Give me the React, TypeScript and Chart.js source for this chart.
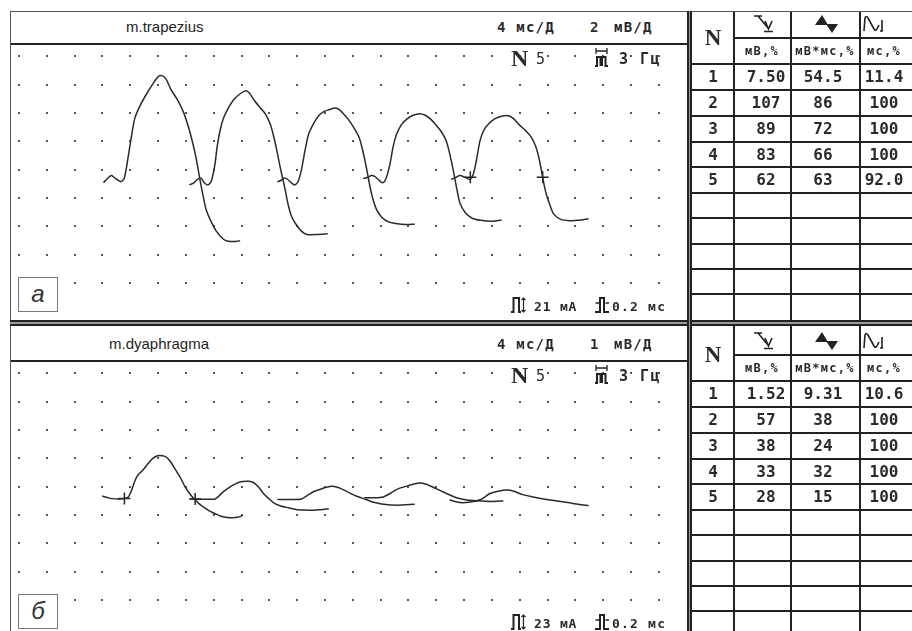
import React, { useEffect, useRef } from "react";
import { Chart, registerables } from "chart.js";
Chart.register(...registerables);

// ---------- data ----------
const trapSweep1Ms = [12.15, 12.8, 13.3, 13.9, 14.65, 15.15, 15.65, 16.15, 16.65, 17.4, 18.4, 19.4, 20.15, 20.65, 21.15, 21.9, 22.9, 23.65, 24.4, 25.0, 25.5, 25.9, 26.15, 26.5, 26.9, 27.65, 28.4, 29.4, 30.15, 31.4, 31.8];
const trapSweep1MV = [-0.92, -0.58, -0.41, -0.63, -0.85, -0.58, 0.74, 2.29, 3.62, 4.5, 5.39, 6.16, 6.61, 6.61, 6.38, 5.61, 4.84, 4.06, 2.96, 1.85, 0.74, -0.36, -1.03, -1.91, -2.8, -3.68, -4.35, -4.9, -5.05, -5.05, -5.0];
const trapSweep2Ms = [24.5, 25.15, 25.65, 26.15, 26.65, 27.15, 27.65, 28.15, 28.5, 28.9, 29.4, 30.15, 30.9, 31.9, 32.65, 33.15, 33.9, 34.65, 35.4, 36.15, 36.65, 37.15, 37.5, 37.9, 38.3, 38.65, 39.15, 39.9, 40.65, 41.4, 42.9, 44.4];
const trapSweep2MV = [-1.07, -0.92, -0.69, -0.58, -0.92, -1.07, -0.81, 0.3, 1.63, 2.73, 3.62, 4.39, 4.95, 5.39, 5.57, 5.39, 4.84, 4.39, 3.95, 3.18, 2.29, 1.19, 0.3, -0.58, -1.47, -2.35, -3.24, -3.9, -4.35, -4.57, -4.57, -4.52];
const trapSweep3Ms = [37.15, 37.65, 38.15, 38.65, 39.15, 39.65, 40.15, 40.65, 41.15, 41.65, 42.4, 43.15, 43.9, 44.65, 45.4, 45.9, 46.65, 47.4, 48.15, 48.9, 49.4, 49.8, 50.15, 50.4, 50.8, 51.4, 52.15, 53.15, 54.4, 55.65, 56.9];
const trapSweep3MV = [-0.85, -0.76, -0.58, -0.69, -0.92, -1.07, -0.81, 0.08, 1.41, 2.51, 3.29, 3.84, 4.11, 4.24, 4.35, 4.28, 3.95, 3.51, 2.96, 2.29, 1.41, 0.52, -0.36, -1.03, -1.91, -2.8, -3.35, -3.68, -3.81, -3.86, -3.84];
const trapSweep4Ms = [49.5, 50.15, 50.65, 51.15, 51.65, 52.3, 52.8, 53.3, 53.8, 54.3, 55.0, 55.8, 56.65, 57.65, 58.4, 59.15, 59.9, 60.65, 61.4, 61.9, 62.3, 62.65, 63.0, 63.4, 64.15, 65.15, 66.4, 67.9, 69.4];
const trapSweep4MV = [-0.63, -0.54, -0.41, -0.47, -0.69, -0.92, -0.58, 0.3, 1.63, 2.51, 3.18, 3.58, 3.84, 3.95, 3.84, 3.58, 3.18, 2.73, 2.07, 1.19, 0.3, -0.58, -1.47, -2.35, -3.02, -3.42, -3.57, -3.64, -3.55];
const trapSweep5Ms = [62.15, 62.8, 63.4, 64.15, 64.8, 65.3, 65.8, 66.3, 66.9, 67.65, 68.4, 69.4, 70.4, 71.15, 71.9, 72.9, 73.65, 74.3, 74.8, 75.15, 75.4, 75.8, 76.4, 76.9, 77.9, 79.15, 80.4, 81.9];
const trapSweep5MV = [-0.69, -0.54, -0.41, -0.54, -0.69, -0.36, 0.74, 2.07, 2.85, 3.29, 3.58, 3.77, 3.8, 3.58, 3.18, 2.73, 2.29, 1.63, 0.74, -0.14, -0.81, -1.69, -2.58, -3.13, -3.5, -3.59, -3.57, -3.46];
const trapMarkerMs = [64.9, 75.3];
const trapMarkerMV = [-0.53, -0.53];

const diaSweep1Ms = [11.97, 12.68, 13.38, 14.32, 15.16, 15.72, 16.19, 16.66, 17.13, 17.83, 18.54, 19.24, 19.94, 20.64, 21.25, 21.82, 22.52, 23.22, 23.93, 24.53, 25.1, 25.8, 26.5, 27.44, 28.38, 29.31, 30.25, 31.42, 32.13];
const diaSweep1MV = [-0.33, -0.38, -0.42, -0.43, -0.42, -0.36, -0.13, 0.2, 0.42, 0.59, 0.81, 1.0, 1.09, 1.09, 1.03, 0.87, 0.59, 0.31, -0.02, -0.24, -0.41, -0.58, -0.71, -0.86, -0.97, -1.06, -1.09, -1.08, -1.02];
const diaSweep2Ms = [24.63, 26.5, 28.14, 28.61, 29.31, 30.25, 31.19, 32.13, 33.06, 33.77, 34.47, 35.17, 35.88, 36.58, 37.52, 38.69, 39.86, 41.03, 42.44, 43.38, 44.55];
const diaSweep2MV = [-0.44, -0.44, -0.44, -0.36, -0.19, -0.02, 0.11, 0.18, 0.19, 0.14, -0.02, -0.24, -0.41, -0.56, -0.67, -0.74, -0.8, -0.82, -0.83, -0.81, -0.78];
const diaSweep3Ms = [37.15, 38.9, 40.65, 41.4, 42.4, 43.65, 44.9, 45.9, 46.9, 48.4, 49.9, 51.15, 52.4, 54.4, 56.9];
const diaSweep3MV = [-0.45, -0.45, -0.43, -0.32, -0.17, -0.06, 0.02, -0.03, -0.14, -0.32, -0.45, -0.56, -0.62, -0.65, -0.62];
const diaSweep4Ms = [49.65, 50.9, 52.4, 53.4, 54.65, 56.15, 57.5, 58.65, 59.9, 61.4, 62.9, 64.4, 66.4, 67.9, 69.65];
const diaSweep4MV = [-0.39, -0.39, -0.36, -0.23, -0.06, 0.05, 0.13, 0.08, -0.06, -0.23, -0.39, -0.47, -0.5, -0.52, -0.5];
const diaSweep5Ms = [61.9, 63.4, 64.9, 66.4, 67.65, 68.9, 70.15, 71.15, 72.4, 73.9, 75.4, 76.9, 78.9, 80.4, 81.9];
const diaSweep5MV = [-0.47, -0.56, -0.54, -0.45, -0.25, -0.16, -0.12, -0.16, -0.28, -0.36, -0.43, -0.49, -0.56, -0.62, -0.67];
const diaMarkerMs = [15.16, 25.33];
const diaMarkerMV = [-0.42, -0.43];

const tableN = ["1", "2", "3", "4", "5"];
const trapAmp = ["7.50", "107", "89", "83", "62"];
const trapArea = ["54.5", "86", "72", "66", "63"];
const trapDur = ["11.4", "100", "100", "100", "92.0"];
const diaAmp = ["1.52", "57", "38", "33", "28"];
const diaArea = ["9.31", "38", "24", "32", "15"];
const diaDur = ["10.6", "100", "100", "100", "100"];

const unitHeaders = ["мВ,%", "мВ*мс,%", "мс,%"];

// ---------- layout ----------
const OFF = 317;
const PLOT_L = 10;
const PLOT_W = 678;
const PLOT_H = 276;
const MS_DIV = 4;
const PX_DIV_X = 28.45;
const PX_DIV_Y = 30;
const X_MIN = -(1.5 / PX_DIV_X) * MS_DIV;
const X_MAX = X_MIN + (PLOT_W / PX_DIV_X) * MS_DIV;
const INK = "#222";
const MONO = "'DejaVu Sans Mono', 'Liberation Mono', monospace";
const SANS = "'Liberation Sans', Arial, sans-serif";
const SERIF = "'Liberation Serif', 'Times New Roman', serif";

function Box({ x, y, w, h, c = INK, style = {} }: any) {
  return <div style={{ position: "absolute", left: x, top: y, width: w, height: h, background: c, ...style }} />;
}

function T({ x, base, size, family = MONO, children, style = {}, center = false, w = 0 }: any) {
  const top = base - 0.845 * size;
  const s: any = {
    position: "absolute",
    top,
    fontSize: size,
    lineHeight: size + "px",
    fontFamily: family,
    color: "#2a2a2a",
    fontWeight: family === MONO ? "bold" : "normal",
    whiteSpace: "pre",
    ...style,
  };
  if (center) {
    s.left = x - w / 2;
    s.width = w;
    s.textAlign = "center";
  } else s.left = x;
  return <div style={s}>{children}</div>;
}

function Trace({ top, yPerDiv, sweeps, markers }: any) {
  const ref = useRef<HTMLCanvasElement>(null);
  useEffect(() => {
    const yMax = (125 / PX_DIV_Y) * yPerDiv;
    const yMin = -((PLOT_H - 125) / PX_DIV_Y) * yPerDiv;
    const datasets: any[] = sweeps.map(([xs, ys]: any) => ({
      data: xs.map((x: number, i: number) => ({ x, y: ys[i] })),
      borderColor: "#2a2a2a",
      borderWidth: 1.5,
      pointRadius: 0,
      tension: 0.25,
      fill: false,
    }));
    datasets.push({
      data: markers[0].map((x: number, i: number) => ({ x, y: markers[1][i] })),
      showLine: false,
      pointStyle: "cross",
      pointRadius: 6,
      borderColor: "#222",
      borderWidth: 1.5,
    });
    const dots = {
      id: "dots",
      beforeDatasetsDraw(chart: any) {
        const { ctx, chartArea } = chart;
        const xs = chart.scales.x;
        const ys = chart.scales.y;
        ctx.save();
        ctx.fillStyle = "#555";
        const i0 = Math.ceil(xs.min / MS_DIV);
        const i1 = Math.floor(xs.max / MS_DIV);
        const j0 = Math.ceil(ys.min / yPerDiv);
        const j1 = Math.floor(ys.max / yPerDiv);
        for (let i = i0; i <= i1; i++) {
          const px = xs.getPixelForValue(i * MS_DIV);
          for (let j = j0; j <= j1; j++) {
            const py = ys.getPixelForValue(j * yPerDiv);
            if (py > chartArea.bottom - 6 || py < chartArea.top + 2) continue;
            ctx.fillRect(Math.round(px) - 1, Math.round(py) - 1, 2, 2);
          }
        }
        ctx.restore();
      },
    };
    const chart = new Chart(ref.current as HTMLCanvasElement, {
      type: "line",
      data: { datasets },
      options: {
        animation: false,
        responsive: false,
        maintainAspectRatio: false,
        events: [],
        layout: { padding: 0 },
        scales: {
          x: { type: "linear", min: X_MIN, max: X_MAX, display: false },
          y: { type: "linear", min: yMin, max: yMax, display: false },
        },
        plugins: { legend: { display: false }, tooltip: { enabled: false } },
      },
      plugins: [dots],
    } as any);
    return () => chart.destroy();
  }, []);
  return (
    <canvas
      ref={ref}
      width={PLOT_W}
      height={PLOT_H}
      style={{ position: "absolute", left: PLOT_L, top, width: PLOT_W, height: PLOT_H }}
    />
  );
}

const S = { fill: "none", stroke: INK, strokeWidth: 1.6 };

function AmpIcon() {
  return (
    <svg width="22" height="20" viewBox="0 0 22 20">
      <path d="M1 3 H9 M5 3 L15 15 M12 8 L15.5 16 L19 8 M11 18.5 H20" {...S} />
    </svg>
  );
}
function AreaIcon() {
  return (
    <svg width="25" height="20" viewBox="0 0 25 20">
      <path d="M1 11 L8 1 L14 11 Z" fill={INK} />
      <path d="M12 10 L24 10 L18 19 Z" fill={INK} />
    </svg>
  );
}
function DurIcon() {
  return (
    <svg width="24" height="20" viewBox="0 0 24 20">
      <path d="M2 17 L3 4 Q4 1 6 4 L12 15 Q14 18 16 13 L17 11 M20 6 V17 M18 17 H21" {...S} />
    </svg>
  );
}
function FreqIcon() {
  return (
    <svg width="13" height="20" viewBox="0 0 13 20">
      <path d="M1 1 V7 M12 1 V7 M1 4 H12" {...S} strokeWidth={1.3} />
      <path d="M0 19 H2 V10 H5.5 V19 M7 19 V10 H10.5 V19 H13" {...S} strokeWidth={2} />
    </svg>
  );
}
function StimAmpIcon() {
  return (
    <svg width="15" height="16" viewBox="0 0 15 16">
      <path d="M0 15 H2.5 V1 H8 V15 H10" {...S} strokeWidth={2} />
      <path d="M12.5 1 V15 M10.5 3 L12.5 1 L14.5 3 M10.5 13 L12.5 15 L14.5 13" {...S} strokeWidth={1.2} />
    </svg>
  );
}
function StimDurIcon() {
  return (
    <svg width="15" height="16" viewBox="0 0 15 16">
      <path d="M0 15 H5 V1 H9 V15 H14" {...S} strokeWidth={2} />
      <path d="M0.5 6 H4 M14 6 H10.5" {...S} strokeWidth={1.3} />
    </svg>
  );
}

const ROWS = [64, 90, 116, 142, 167, 193, 218, 244, 269, 294, 320];

function Table({ off, amp, area, dur, topStart }: any) {
  const els: any[] = [];
  ROWS.slice(0, 10).forEach((y, i) => {
    els.push(<Box key={"h" + i} x={692} y={y + off - 0.75} w={220} h={1.5} />);
  });
  els.push(<Box key="sub" x={734} y={38 + off - 0.75} w={178} h={1.5} />);
  [734, 791, 860].forEach((x, i) => {
    els.push(<Box key={"v" + i} x={x - 0.75} y={topStart} w={1.5} h={320 + off - topStart} />);
  });
  els.push(
    <T key="N" x={713} base={45 + off} size={23} family={SERIF} center w={42} style={{ fontWeight: "bold" }}>
      N
    </T>
  );
  els.push(<div key="i1" style={{ position: "absolute", left: 753, top: 13 + off }}><AmpIcon /></div>);
  els.push(<div key="i2" style={{ position: "absolute", left: 814, top: 14 + off }}><AreaIcon /></div>);
  els.push(<div key="i3" style={{ position: "absolute", left: 862, top: 14 + off }}><DurIcon /></div>);
  const centers = [762, 825, 884];
  unitHeaders.forEach((u, i) => {
    els.push(
      <T key={"u" + i} x={centers[i]} base={55.5 + off} size={12} center w={80} style={{ letterSpacing: 1.3 }}>
        {u}
      </T>
    );
  });
  const cols = [tableN, amp, area, dur];
  const cx = [713, 766, 823, 884];
  tableN.forEach((_, r) => {
    const center = (ROWS[r] + ROWS[r + 1]) / 2 + off;
    cols.forEach((col, c) => {
      els.push(
        <T key={"c" + r + "_" + c} x={cx[c]} base={center + 6} size={16} center w={60}>
          {col[r]}
        </T>
      );
    });
  });
  return <>{els}</>;
}

function Panel({ off, name, mvDiv, stimMa, label }: any) {
  return (
    <>
      <T x={name === "m.trapezius" ? 126 : 109} base={31.5 + off} size={15} family={SANS} style={{ color: "#1e1e1e" }}>
        {name}
      </T>
      <T x={497} base={31.7 + off} size={14} style={{ letterSpacing: 1.2 }}>4 мс/Д</T>
      <T x={590} base={31.7 + off} size={14}>{mvDiv}</T>
      <T x={614} base={31.7 + off} size={14} style={{ letterSpacing: 1.2 }}>мВ/Д</T>
      <Box x={PLOT_L} y={43 + off} w={PLOT_W} h={2} />
      <T x={511} base={66.7 + off} size={24} family={SERIF} style={{ fontWeight: "bold" }}>N</T>
      <T x={536} base={65 + off} size={15} style={{ fontWeight: "normal" }}>5</T>
      <div style={{ position: "absolute", left: 595, top: 47 + off }}><FreqIcon /></div>
      <T x={619} base={65 + off} size={15} style={{ letterSpacing: 1.5 }}>3 Гц</T>
      <div style={{ position: "absolute", left: 511, top: 297 + off }}><StimAmpIcon /></div>
      <T x={534} base={311 + off} size={13} style={{ letterSpacing: 0.8 }}>{stimMa + " мА"}</T>
      <div style={{ position: "absolute", left: 595, top: 297 + off }}><StimDurIcon /></div>
      <T x={612} base={311 + off} size={13} style={{ letterSpacing: 1.2 }}>0.2 мс</T>
      <div
        style={{
          position: "absolute",
          left: 18,
          top: 277 + off,
          width: 40,
          height: 35,
          boxSizing: "border-box",
          border: "1px solid #777",
          background: "#fff",
        }}
      />
      <T x={38} base={302 + off} size={24} family={SANS} center w={40} style={{ fontStyle: "italic", color: "#333" }}>
        {label}
      </T>
    </>
  );
}

export default function App() {
  return (
    <div
      style={{
        position: "fixed",
        left: 0,
        top: 0,
        width: 912,
        height: 631,
        overflow: "hidden",
        background: "#fff",
      }}
    >
      <Trace
        top={44}
        yPerDiv={2}
        sweeps={[
          [trapSweep1Ms, trapSweep1MV],
          [trapSweep2Ms, trapSweep2MV],
          [trapSweep3Ms, trapSweep3MV],
          [trapSweep4Ms, trapSweep4MV],
          [trapSweep5Ms, trapSweep5MV],
        ]}
        markers={[trapMarkerMs, trapMarkerMV]}
      />
      <Trace
        top={44 + OFF}
        yPerDiv={1}
        sweeps={[
          [diaSweep1Ms, diaSweep1MV],
          [diaSweep2Ms, diaSweep2MV],
          [diaSweep3Ms, diaSweep3MV],
          [diaSweep4Ms, diaSweep4MV],
          [diaSweep5Ms, diaSweep5MV],
        ]}
        markers={[diaMarkerMs, diaMarkerMV]}
      />
      <Panel off={0} name="m.trapezius" mvDiv="2" stimMa="21" label="а" />
      <Panel off={OFF} name="m.dyaphragma" mvDiv="1" stimMa="23" label="б" />
      <Table off={0} amp={trapAmp} area={trapArea} dur={trapDur} topStart={11} />
      <Table off={OFF} amp={diaAmp} area={diaArea} dur={diaDur} topStart={326} />
      {/* frame */}
      <Box x={10} y={11} w={902} h={1.2} c="#555" />
      <Box x={10} y={11} w={1.2} h={620} c="#555" />
      {/* panel separator */}
      <Box x={10} y={320} w={902} h={6} c="#9a9a9a" />
      <Box x={10} y={320} w={902} h={2} />
      <Box x={10} y={324} w={902} h={2} />
      {/* plot / table divider */}
      <Box x={687} y={11} w={5} h={620} c="#9a9a9a" />
      <Box x={687} y={11} w={1.6} h={620} />
      <Box x={690.4} y={11} w={1.6} h={620} />
    </div>
  );
}
